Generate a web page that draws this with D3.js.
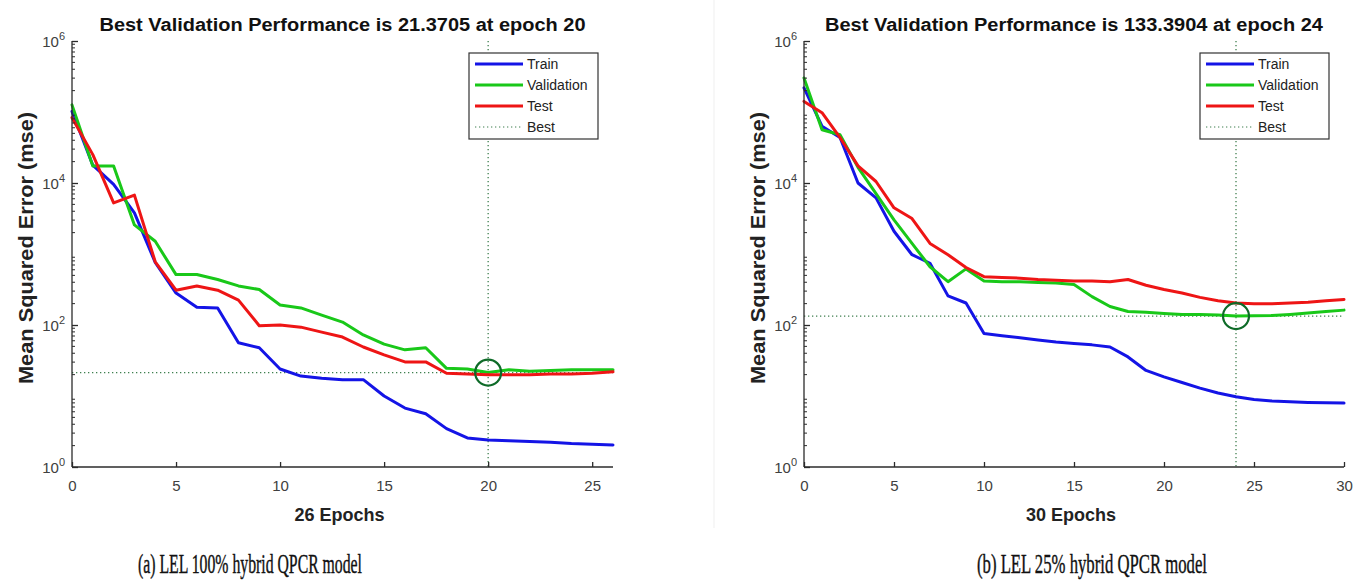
<!DOCTYPE html>
<html>
<head>
<meta charset="utf-8">
<script src="https://cdn.jsdelivr.net/npm/d3@7"></script>
<style>
  html, body { margin: 0; padding: 0; background: #ffffff; }
  svg { display: block; }
</style>
</head>
<body>
<svg id="chart" width="1354" height="588"></svg>
<script>
// ---------------- DATA ----------------
const epochsA = d3.range(0, 27);          // 0..26
const trainA = [102000, 17800, 9550, 3800, 759, 282, 178, 174, 56.2, 47.9, 24.0, 19.1, 17.8, 17.0, 17.0, 10.0, 6.76, 5.62, 3.47, 2.57, 2.40, 2.34, 2.29, 2.24, 2.14, 2.09, 2.04];
const validA = [126000, 17400, 17400, 2570, 1510, 513, 513, 437, 355, 316, 191, 174, 138, 110, 72.4, 53.7, 44.7, 47.9, 24.5, 24.0, 21.37, 23.4, 22.4, 22.9, 23.4, 23.4, 23.4];
const testA  = [83200, 25100, 5250, 6760, 776, 309, 355, 309, 224, 97.7, 100, 93.3, 79.4, 67.6, 49.0, 38.0, 30.2, 30.2, 20.9, 20.4, 20.0, 20.0, 20.0, 20.4, 20.4, 20.9, 21.9];
const bestEpochA = 20, bestValueA = 21.3705;

const epochsB = d3.range(0, 31);          // 0..30
const trainB = [219000, 63100, 43700, 10000, 6170, 2090, 977, 741, 257, 204, 75.9, 70.8, 66.1, 61.7, 57.5, 55.0, 52.5, 49.0, 35.5, 22.9, 18.6, 15.5, 12.9, 11.0, 9.77, 8.91, 8.51, 8.32, 8.13, 8.04, 7.94];
const validB = [302000, 56200, 47900, 16600, 7080, 3020, 1410, 661, 407, 617, 417, 407, 407, 398, 389, 372, 251, 182, 155, 151, 145, 141, 141, 138, 133.39, 135, 136, 141, 148, 155, 162];
const testB  = [141000, 97700, 43700, 17400, 10500, 4470, 3160, 1410, 977, 646, 479, 468, 457, 437, 427, 417, 417, 407, 437, 363, 316, 282, 245, 219, 204, 200, 200, 204, 209, 219, 229];
const bestEpochB = 24, bestValueB = 133.3904;

const yMajorTicks = [1, 100, 10000, 1000000];
const yTickExp = ["0", "2", "4", "6"];
const xTicksA = [0, 5, 10, 15, 20, 25];
const xTicksB = [0, 5, 10, 15, 20, 25, 30];
const legendLabels = ["Train", "Validation", "Test", "Best"];
const titleA = "Best Validation Performance is 21.3705 at epoch 20";
const titleB = "Best Validation Performance is 133.3904 at epoch 24";
const xLabelA = "26 Epochs", xLabelB = "30 Epochs";
const yLabel = "Mean Squared Error  (mse)";
const captionA = "(a) LEL 100% hybrid QPCR model";
const captionB = "(b) LEL 25% hybrid QPCR model";

// ---------------- STYLE ----------------
const colTrain = "#1414e6", colValid = "#19c819", colTest = "#ee1515";
const colBest = "#3f7f4f", colCircle = "#0e6b28";
const axisCol = "#2b2b2b", tickTextCol = "#404040";
const fontSans = "'Liberation Sans', Arial, Helvetica, sans-serif";

const svg = d3.select("#chart");

function drawPanel(p) {
  const g = svg.append("g");
  const x = d3.scaleLinear().domain([0, p.xMax]).range([p.left, p.right]);
  const y = d3.scaleLog().domain([1, 1e6]).range([p.bottom, p.top]);

  // best lines (dotted)
  g.append("line").attr("x1", x(p.bestEpoch)).attr("x2", x(p.bestEpoch))
    .attr("y1", y(1e6)).attr("y2", y(1))
    .attr("stroke", colBest).attr("stroke-width", 1.3).attr("stroke-dasharray", "1.3,2.7");
  g.append("line").attr("x1", x(0)).attr("x2", x(p.xMax))
    .attr("y1", y(p.bestValue)).attr("y2", y(p.bestValue))
    .attr("stroke", colBest).attr("stroke-width", 1.3).attr("stroke-dasharray", "1.3,2.7");

  const line = d3.line().x((d, i) => x(p.epochs[i])).y(d => y(d));
  [[p.train, colTrain], [p.valid, colValid], [p.test, colTest]].forEach(([arr, c]) => {
    g.append("path").attr("d", line(arr)).attr("fill", "none").attr("stroke", c)
      .attr("stroke-width", 3).attr("stroke-linejoin", "round").attr("stroke-linecap", "round");
  });

  // best circle
  g.append("circle").attr("cx", x(p.bestEpoch)).attr("cy", y(p.bestValue)).attr("r", 13)
    .attr("fill", "none").attr("stroke", colCircle).attr("stroke-width", 2.2);

  // x axis
  const xAxis = d3.axisBottom(x).tickValues(p.xTicks).tickSize(-5).tickPadding(13).tickFormat(d3.format("d"));
  const gx = g.append("g").attr("transform", `translate(0,${p.bottom})`).call(xAxis);
  gx.select(".domain").attr("d", `M${p.left},0H${p.right}`).attr("stroke", axisCol).attr("stroke-width", 1.3);
  gx.selectAll(".tick line").attr("stroke", axisCol).attr("stroke-width", 1.3);
  gx.selectAll(".tick text").attr("fill", tickTextCol).attr("font-family", fontSans).attr("font-size", 15);

  // y axis (major)
  const yAxis = d3.axisLeft(y).tickValues(yMajorTicks).tickSize(-6).tickFormat("");
  const gy = g.append("g").attr("transform", `translate(${p.left},0)`).call(yAxis);
  gy.select(".domain").attr("d", `M0,${p.top}V${p.bottom}`).attr("stroke", axisCol).attr("stroke-width", 1.3);
  gy.selectAll(".tick line").attr("stroke", axisCol).attr("stroke-width", 1.3);
  // minor ticks
  const minors = [];
  for (let k = 0; k < 6; k++) for (let m = 2; m <= 9; m++) minors.push(m * Math.pow(10, k));
  gy.selectAll(".minor").data(minors).enter().append("line").attr("class", "minor")
    .attr("x1", 0).attr("x2", 3).attr("y1", d => y(d)).attr("y2", d => y(d))
    .attr("stroke", axisCol).attr("stroke-width", 1);
  // y tick labels 10^k
  gy.selectAll(".tick").each(function (d, i) {
    const t = d3.select(this).append("text").attr("x", -7).attr("y", 5)
      .attr("text-anchor", "end").attr("fill", tickTextCol)
      .attr("font-family", fontSans).attr("font-size", 15);
    t.append("tspan").text("10");
    t.append("tspan").attr("dy", -7).attr("font-size", 11).text(yTickExp[yMajorTicks.indexOf(d)]);
  });

  // title
  g.append("text").attr("x", (p.left + p.right) / 2).attr("y", 31).attr("text-anchor", "middle")
    .attr("font-family", fontSans).attr("font-weight", "bold").attr("font-size", 18).attr("fill", "#111")
    .attr("textLength", p.titleLen).attr("lengthAdjust", "spacingAndGlyphs").text(p.title);
  // x label
  g.append("text").attr("x", (p.left + p.right) / 2 - 3).attr("y", 521).attr("text-anchor", "middle")
    .attr("font-family", fontSans).attr("font-weight", "bold").attr("font-size", 18).attr("fill", "#222")
    .text(p.xLabel);
  // y label
  g.append("text").attr("transform", `translate(${p.yLabelX},${(p.top + p.bottom) / 2 - 6}) rotate(-90)`)
    .attr("text-anchor", "middle").attr("font-family", fontSans).attr("font-weight", "bold")
    .attr("font-size", 20).attr("fill", "#222")
    .attr("textLength", 272).attr("lengthAdjust", "spacingAndGlyphs").text(yLabel);

  // legend
  const lw = 129, lh = 86, lx = p.right - 15 - lw, ly = 53;
  const lg = g.append("g");
  lg.append("rect").attr("x", lx).attr("y", ly).attr("width", lw).attr("height", lh)
    .attr("fill", "#fff").attr("stroke", "#333").attr("stroke-width", 1.2);
  const legCols = [colTrain, colValid, colTest, colBest];
  legendLabels.forEach((lab, i) => {
    const yy = ly + 11 + i * 21;
    lg.append("line").attr("x1", lx + 6).attr("x2", lx + 54).attr("y1", yy).attr("y2", yy)
      .attr("stroke", legCols[i]).attr("stroke-width", i < 3 ? 3 : 1.2)
      .attr("stroke-dasharray", i < 3 ? null : "1.3,2.7");
    lg.append("text").attr("x", lx + 58).attr("y", yy + 5).attr("font-family", fontSans)
      .attr("font-size", 14).attr("fill", "#222").text(lab);
  });

  // caption
  svg.append("text").attr("x", p.captionX).attr("y", 573).attr("text-anchor", "middle")
    .attr("font-family", "'Liberation Serif', 'DejaVu Serif', serif").attr("font-size", 27).attr("fill", "#111")
    .attr("stroke", "#111").attr("stroke-width", 0.4)
    .attr("textLength", p.captionLen).attr("lengthAdjust", "spacingAndGlyphs").text(p.caption);
}

// faint separator between the two images
svg.append("line").attr("x1", 714).attr("x2", 714).attr("y1", 0).attr("y2", 528)
  .attr("stroke", "#efefef").attr("stroke-width", 1);

drawPanel({
  left: 72, right: 613, top: 41, bottom: 467, xMax: 26,
  epochs: epochsA, train: trainA, valid: validA, test: testA,
  bestEpoch: bestEpochA, bestValue: bestValueA, xTicks: xTicksA,
  title: titleA, titleLen: 486, xLabel: xLabelA, yLabelX: 33,
  caption: captionA, captionX: 250, captionLen: 224
});
drawPanel({
  left: 804, right: 1344, top: 41, bottom: 467, xMax: 30,
  epochs: epochsB, train: trainB, valid: validB, test: testB,
  bestEpoch: bestEpochB, bestValue: bestValueB, xTicks: xTicksB,
  title: titleB, titleLen: 498, xLabel: xLabelB, yLabelX: 765,
  caption: captionB, captionX: 1092, captionLen: 230
});
</script>
</body>
</html>
